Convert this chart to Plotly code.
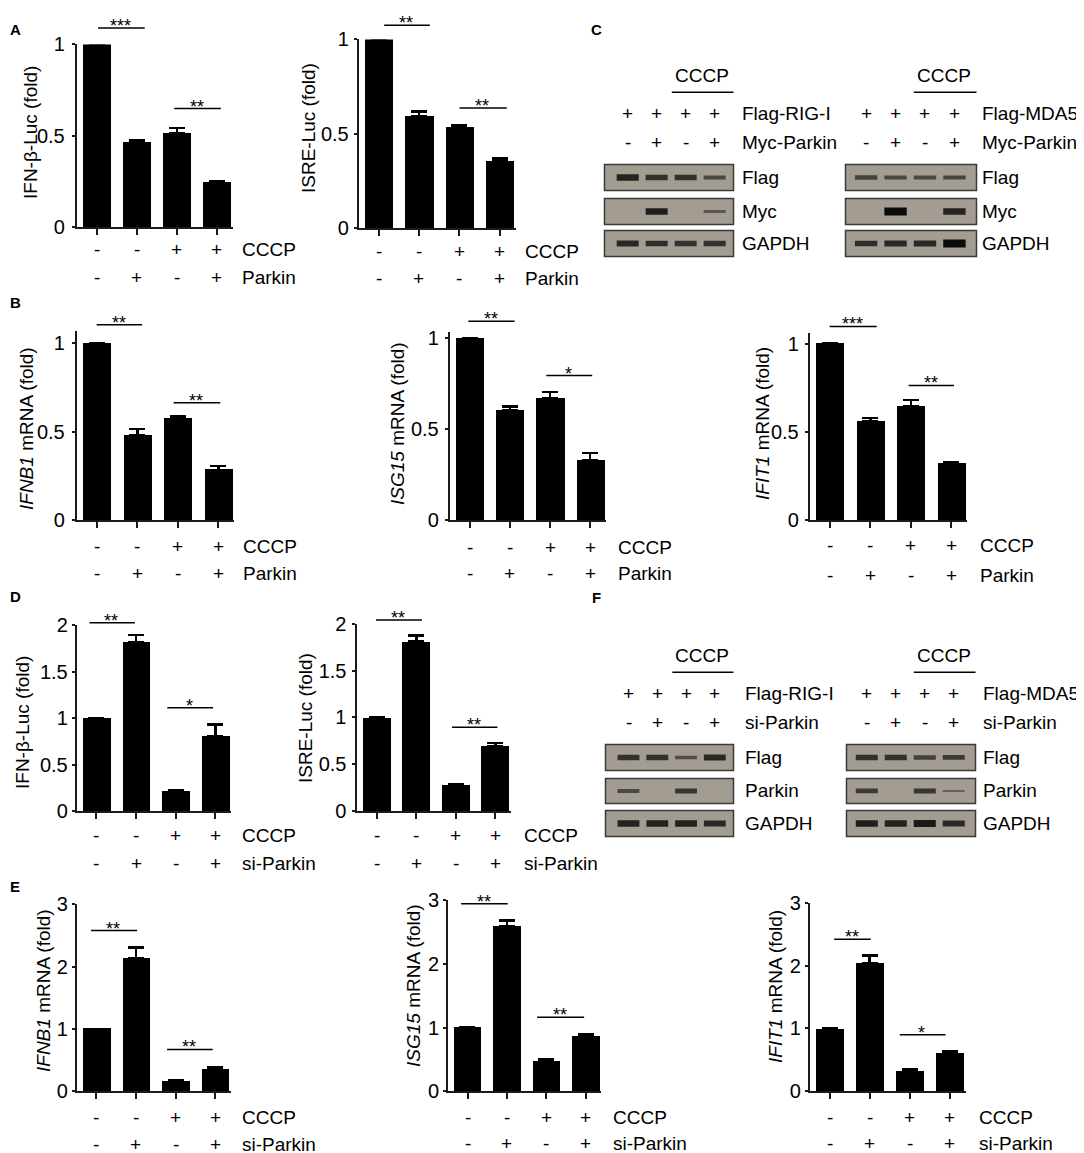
import plotly.graph_objects as go

W, H = 1084, 1153
# the page is photographed with a small offset and a slight vertical squeeze;
OX, OY, SY = 8.5, 18.5, 0.981
FW, FH = 1076, 1157
FONT = 'Liberation Sans, Arial, sans-serif'
AX = '#1a1a1a'

# ---------------- data ----------------
lanes = [0, 1, 2, 3]
cccp = ['-', '-', '+', '+']
parkin = ['-', '+', '-', '+']

# panel A: luciferase reporters, Parkin overexpression
a_ifnb_luc = [1.0, 0.464, 0.513, 0.247]
a_ifnb_luc_err = [None, 0.011, 0.03, 0.008]
a_isre_luc = [1.0, 0.593, 0.534, 0.354]
a_isre_luc_err = [None, 0.027, 0.011, 0.016]

# panel B: mRNA, Parkin overexpression
b_ifnb1 = [1.0, 0.481, 0.577, 0.286]
b_ifnb1_err = [None, 0.036, 0.01, 0.02]
b_isg15 = [1.0, 0.603, 0.673, 0.329]
b_isg15_err = [None, 0.022, 0.031, 0.04]
b_ifit1 = [1.0, 0.562, 0.645, 0.321]
b_ifit1_err = [None, 0.017, 0.037, 0.009]

# panel D: luciferase reporters, Parkin knockdown
d_ifnb_luc = [1.0, 1.82, 0.209, 0.808]
d_ifnb_luc_err = [None, 0.08, 0.017, 0.126]
d_isre_luc = [1.0, 1.81, 0.28, 0.694]
d_isre_luc_err = [None, 0.065, 0.005, 0.036]

# panel E: mRNA, Parkin knockdown
e_ifnb1 = [1.0, 2.13, 0.16, 0.353]
e_ifnb1_err = [None, 0.18, 0.01, 0.033]
e_isg15 = [1.0, 2.59, 0.472, 0.865]
e_isg15_err = [None, 0.095, 0.026, 0.025]
e_ifit1 = [1.0, 2.04, 0.32, 0.605]
e_ifit1_err = [None, 0.12, 0.036, 0.032]

ticks_1 = [0, 0.5, 1]
ticks_2 = [0, 0.5, 1, 1.5, 2]
ticks_3 = [0, 1, 2, 3]

# significance brackets: (from bar, to bar, height, stars)
a_ifnb_sig = [(0.0, 1.2, 1.09, '***'), (1.9, 3.1, 0.65, '**')]
a_isre_sig = [(0.1, 1.27, 1.076, '**'), (1.97, 3.18, 0.637, '**')]
b_ifnb1_sig = [(-0.04, 1.12, 1.104, '**'), (1.86, 3.05, 0.664, '**')]
b_isg15_sig = [(-0.07, 1.12, 1.093, '**'), (1.87, 3.05, 0.795, '*')]
b_ifit1_sig = [(-0.04, 1.16, 1.098, '***'), (1.91, 3.07, 0.764, '**')]
d_ifnb_sig = [(-0.21, 0.97, 2.03, '**'), (1.75, 2.94, 1.114, '*')]
d_isre_sig = [(-0.06, 1.14, 2.04, '**'), (1.86, 3.05, 0.896, '**')]
e_ifnb1_sig = [(-0.17, 1.03, 2.58, '**'), (1.75, 2.94, 0.67, '**')]
e_isg15_sig = [(-0.2, 1.02, 2.95, '**'), (1.73, 2.96, 1.163, '**')]
e_ifit1_sig = [(0.08, 1.03, 2.42, '**'), (1.72, 2.9, 0.90, '*')]

# western blots: band intensity per lane (0 = no band)
c_rig_flag = [0.75, 0.6, 0.6, 0.35]
c_rig_myc = [0, 0.8, 0, 0.2]
c_rig_gapdh = [0.7, 0.65, 0.6, 0.6]
c_mda_flag = [0.45, 0.35, 0.35, 0.4]
c_mda_myc = [0, 1.0, 0, 0.75]
c_mda_gapdh = [0.65, 0.7, 0.7, 1.0]
f_rig_flag = [0.6, 0.6, 0.3, 0.7]
f_rig_parkin = [0.35, 0, 0.55, 0]
f_rig_gapdh = [0.75, 0.75, 0.75, 0.7]
f_mda_flag = [0.6, 0.6, 0.45, 0.5]
f_mda_parkin = [0.5, 0, 0.55, 0.1]
f_mda_gapdh = [0.8, 0.75, 0.85, 0.7]
transfected = ['+', '+', '+', '+']


def px_x(p):
    return (p - OX) / FW


def px_y(p):
    return 1 - (p - OY) / SY / FH


def names(n):
    s = '' if n == 1 else str(n)
    return 'x' + s, 'y' + s, 'xaxis' + s, 'yaxis' + s


charts = [
    dict(vals=a_ifnb_luc, err=a_ifnb_luc_err, sig=a_ifnb_sig, ticks=ticks_1,
         title='IFN-β-Luc (fold)', rows=('CCCP', 'Parkin')),
    dict(vals=a_isre_luc, err=a_isre_luc_err, sig=a_isre_sig, ticks=ticks_1,
         title='ISRE-Luc (fold)', rows=('CCCP', 'Parkin')),
    dict(vals=b_ifnb1, err=b_ifnb1_err, sig=b_ifnb1_sig, ticks=ticks_1,
         title='<i>IFNB1</i> mRNA (fold)', rows=('CCCP', 'Parkin')),
    dict(vals=b_isg15, err=b_isg15_err, sig=b_isg15_sig, ticks=ticks_1,
         title='<i>ISG15</i> mRNA (fold)', rows=('CCCP', 'Parkin')),
    dict(vals=b_ifit1, err=b_ifit1_err, sig=b_ifit1_sig, ticks=ticks_1,
         title='<i>IFIT1</i> mRNA (fold)', rows=('CCCP', 'Parkin')),
    dict(vals=d_ifnb_luc, err=d_ifnb_luc_err, sig=d_ifnb_sig, ticks=ticks_2,
         title='IFN-β-Luc (fold)', rows=('CCCP', 'si-Parkin')),
    dict(vals=d_isre_luc, err=d_isre_luc_err, sig=d_isre_sig, ticks=ticks_2,
         title='ISRE-Luc (fold)', rows=('CCCP', 'si-Parkin')),
    dict(vals=e_ifnb1, err=e_ifnb1_err, sig=e_ifnb1_sig, ticks=ticks_3,
         title='<i>IFNB1</i> mRNA (fold)', rows=('CCCP', 'si-Parkin')),
    dict(vals=e_isg15, err=e_isg15_err, sig=e_isg15_sig, ticks=ticks_3,
         title='<i>ISG15</i> mRNA (fold)', rows=('CCCP', 'si-Parkin')),
    dict(vals=e_ifit1, err=e_ifit1_err, sig=e_ifit1_sig, ticks=ticks_3,
         title='<i>IFIT1</i> mRNA (fold)', rows=('CCCP', 'si-Parkin')),
]

# pixel geometry: axis left, bar spacing, y of 0, y of axis top, y max,
# title centre, row label heights, row name x, tick label standoff
geoms = [
    (77, 40.1, 227, 44, 1.0, (31, 132), (249, 277), 240, 3),
    (359, 40.3, 228, 39, 1.0, (309, 128), (251, 278), 523, 1),
    (77, 40.5, 520, 331, 1.066, (27, 428), (546, 573), 241, 3),
    (450, 40.2, 520, 331.7, 1.033, (398, 423), (547, 573), 616, 2),
    (810, 40.5, 520, 333, 1.058, (763, 423), (545, 575), 978, 2),
    (77, 39.7, 810.7, 625, 2.0, (23, 722), (835, 863), 240, 0),
    (357.7, 39.5, 810.7, 623.3, 2.0, (306, 718), (835, 863), 522, 2),
    (77, 39.6, 1090.7, 904, 3.0, (44, 990), (1117, 1144), 240, 0),
    (448.3, 39.4, 1090.7, 900, 3.0, (414, 985), (1117, 1143), 611, 0),
    (810, 40, 1090.7, 902.3, 3.0, (776, 986), (1117, 1143), 977, 0),
]

fig = go.Figure()
layout = {}
ann = []
shapes = []
txt = dict(family=FONT, size=19, color='black')

for i, (c, g) in enumerate(zip(charts, geoms)):
    xr, yr, xk, yk = names(i + 1)
    x_left, sp, y0, ytop, ymax, (tx, ty), (r1, r2), lab_x, stand = g
    fig.add_trace(go.Bar(
        x=lanes, y=c['vals'], width=0.7,
        marker=dict(color='black', line_width=0),
        error_y=dict(type='data', array=c['err'], symmetric=False,
                     arrayminus=[0, 0, 0, 0], color='black',
                     thickness=2.5, width=8),
        xaxis=xr, yaxis=yr, showlegend=False, hoverinfo='skip'))
    layout[xk] = dict(domain=[px_x(x_left), px_x(x_left + 3.9 * sp)],
                      range=[-0.5, 3.4], anchor=yr, showline=True,
                      linecolor=AX, linewidth=1.5, ticks='outside', ticklen=6,
                      tickwidth=1.5, tickcolor=AX, tickvals=lanes,
                      showticklabels=False, showgrid=False, zeroline=False,
                      fixedrange=True)
    layout[yk] = dict(domain=[px_y(y0), px_y(ytop)], range=[0, ymax],
                      anchor=xr, showline=True, linecolor=AX, linewidth=1.5,
                      ticks='outside', ticklen=3, tickwidth=1.5, tickcolor=AX,
                      tickvals=c['ticks'],
                      ticktext=[f'{v:g}' for v in c['ticks']],
                      tickfont=dict(family=FONT, size=20, color='black'),
                      ticklabelstandoff=stand,
                      showgrid=False, zeroline=False, fixedrange=True)
    ann.append(dict(x=px_x(tx), y=px_y(ty), xref='paper', yref='paper',
                    text=c['title'], textangle=-90, showarrow=False,
                    xanchor='center', yanchor='middle', font=txt))
    for row_signs, ry, row_name in ((cccp, r1, c['rows'][0]),
                                    (parkin, r2, c['rows'][1])):
        for k, s in zip(lanes, row_signs):
            ann.append(dict(x=k, y=px_y(ry), xref=xr, yref='paper', text=s,
                            showarrow=False, xanchor='center',
                            yanchor='middle', font=txt))
        ann.append(dict(x=px_x(lab_x), y=px_y(ry), xref='paper', yref='paper',
                        text=row_name, showarrow=False, xanchor='left',
                        yanchor='middle', font=txt))
    # brackets may sit above the axis top, so place them in axis-domain units
    ydom = yr + ' domain'
    for x0, x1, yv, stars in c['sig']:
        ann.append(dict(x=x1, y=yv / ymax, ax=x0, ay=0, xref=xr, yref=ydom,
                        axref=xr, ayref='pixel', text='', showarrow=True,
                        arrowhead=0, arrowwidth=1.5, arrowcolor='black',
                        standoff=0, startstandoff=0))
        ann.append(dict(x=(x0 + x1) / 2, y=yv / ymax, xref=xr, yref=ydom,
                        text=stars, showarrow=False, xanchor='center',
                        yanchor='middle', yshift=2,
                        font=dict(family=FONT, size=18, color='black')))

# ---------------- western blots ----------------
blots = [
    dict(bands=[c_rig_flag, c_rig_myc, c_rig_gapdh],
         strips=['Flag', 'Myc', 'GAPDH'], top=('Flag-RIG-I', 'Myc-Parkin'),
         signs=(transfected, parkin)),
    dict(bands=[c_mda_flag, c_mda_myc, c_mda_gapdh],
         strips=['Flag', 'Myc', 'GAPDH'], top=('Flag-MDA5', 'Myc-Parkin'),
         signs=(transfected, parkin)),
    dict(bands=[f_rig_flag, f_rig_parkin, f_rig_gapdh],
         strips=['Flag', 'Parkin', 'GAPDH'], top=('Flag-RIG-I', 'si-Parkin'),
         signs=(transfected, parkin)),
    dict(bands=[f_mda_flag, f_mda_parkin, f_mda_gapdh],
         strips=['Flag', 'Parkin', 'GAPDH'], top=('Flag-MDA5', 'si-Parkin'),
         signs=(transfected, parkin)),
]
# box x, lane range, strip y-extents, label x, sign rows y, CCCP text y, line y, line span
blot_geoms = [
    ((605, 734), (-0.8, 3.65), [(164, 190), (198, 224), (230, 256)], 740,
     (113, 142), 75, 91.7, (1.47, 3.65)),
    ((846, 977), (-0.7, 3.75), [(164, 190), (198, 224), (230, 256)], 980,
     (113, 142), 75, 91.7, (1.57, 3.75)),
    ((606, 734), (-0.8, 3.65), [(744, 770), (778, 803), (810, 836)], 743,
     (693, 722), 655, 671.7, (1.47, 3.65)),
    ((847, 976), (-0.7, 3.75), [(744, 770), (778, 803), (810, 836)], 981,
     (693, 722), 655, 671.7, (1.57, 3.75)),
]

n = len(charts)
for b, g in zip(blots, blot_geoms):
    (bx0, bx1), xrange_, strips_y, lab_x, (s1, s2), ctext_y, cline_y, span = g
    top_x = None
    for band, name, (sy0, sy1) in zip(b['bands'], b['strips'], strips_y):
        n += 1
        xr, yr, xk, yk = names(n)
        if top_x is None:
            top_x = xr
        layout[xk] = dict(domain=[px_x(bx0), px_x(bx1)], range=list(xrange_),
                          anchor=yr, visible=False, fixedrange=True)
        layout[yk] = dict(domain=[px_y(sy1), px_y(sy0)], range=[-1, 1],
                          anchor=xr, visible=False, fixedrange=True)
        shapes.append(dict(type='rect', xref=xr + ' domain',
                           yref=yr + ' domain', x0=0, x1=1, y0=0, y1=1,
                           fillcolor='#a39c92',
                           line=dict(color='#3c3a37', width=1.5),
                           layer='below'))
        for k, inten in zip(lanes, band):
            if inten <= 0:
                continue
            fig.add_trace(go.Scatter(
                x=[k - 0.38, k + 0.38], y=[0, 0], mode='lines',
                line=dict(color=f'rgba(12,12,12,{0.35 + 0.65 * inten:.2f})',
                          width=1.5 + 6.5 * inten),
                xaxis=xr, yaxis=yr, showlegend=False, hoverinfo='skip'))
        ann.append(dict(x=px_x(lab_x), y=px_y((sy0 + sy1) / 2), xref='paper',
                        yref='paper', text=name, showarrow=False,
                        xanchor='left', yanchor='middle', font=txt))
    for row_signs, ry, row_name in ((b['signs'][0], s1, b['top'][0]),
                                    (b['signs'][1], s2, b['top'][1])):
        for k, s in zip(lanes, row_signs):
            ann.append(dict(x=k, y=px_y(ry), xref=top_x, yref='paper', text=s,
                            showarrow=False, xanchor='center',
                            yanchor='middle', font=txt))
        ann.append(dict(x=px_x(lab_x), y=px_y(ry), xref='paper', yref='paper',
                        text=row_name, showarrow=False, xanchor='left',
                        yanchor='middle', font=txt))
    ann.append(dict(x=span[1], y=px_y(cline_y), ax=span[0], ay=0,
                    xref=top_x, yref='paper', axref=top_x, ayref='pixel',
                    text='', showarrow=True, arrowhead=0, arrowwidth=1.5,
                    arrowcolor='black', standoff=0, startstandoff=0))
    ann.append(dict(x=(span[0] + span[1]) / 2, y=px_y(ctext_y), xref=top_x,
                    yref='paper', text='CCCP', showarrow=False,
                    xanchor='center', yanchor='middle', font=txt))

# panel letters: the left column sits on the left edge, A and C on the top edge
letter_font = dict(family=FONT, size=15, color='black')
ann.append(dict(x=0, y=1, xref='paper', yref='paper', text='<b>A</b>',
                showarrow=False, xanchor='left', yanchor='top',
                font=letter_font))
ann.append(dict(x=px_x(597), y=1, xref='paper', yref='paper', text='<b>C</b>',
                showarrow=False, xanchor='center', yanchor='top',
                font=letter_font))
for letter, ly in (('B', 302), ('D', 596), ('E', 886)):
    ann.append(dict(x=0, y=px_y(ly), xref='paper', yref='paper',
                    text=f'<b>{letter}</b>', showarrow=False, xanchor='left',
                    yanchor='middle', font=letter_font))
ann.append(dict(x=px_x(597), y=px_y(597), xref='paper', yref='paper',
                text='<b>F</b>', showarrow=False, xanchor='center',
                yanchor='middle', font=letter_font))

fig.update_layout(width=FW, height=FH, margin=dict(l=0, r=0, t=0, b=0),
                  paper_bgcolor='white', plot_bgcolor='white',
                  font=dict(family=FONT, color='black'),
                  annotations=ann, shapes=shapes, bargap=0, **layout)
fig.write_html('out.html')
